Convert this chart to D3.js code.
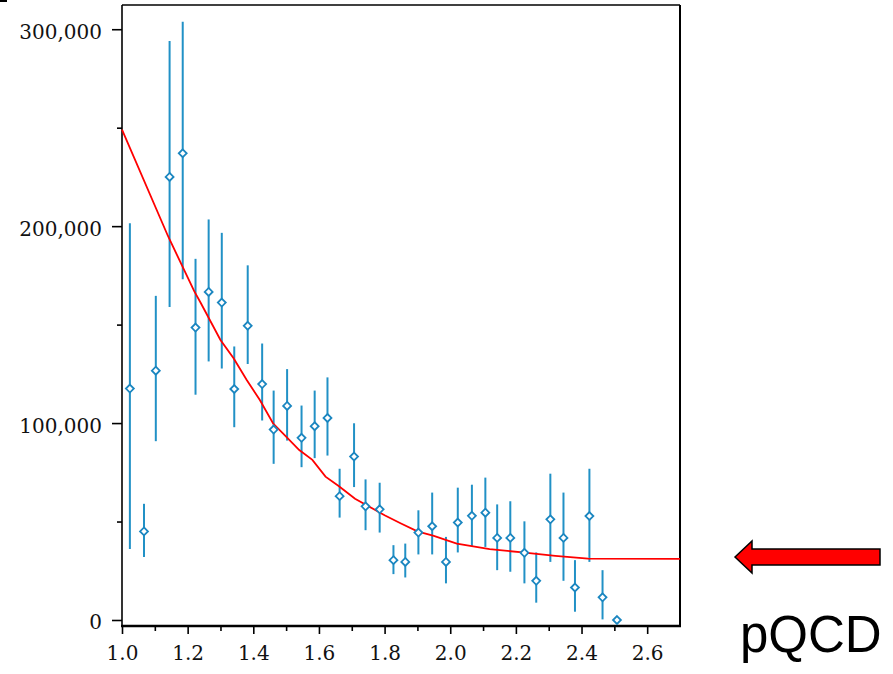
<!DOCTYPE html>
<html>
<head>
<meta charset="utf-8">
<script src="https://cdn.jsdelivr.net/npm/d3@7"></script>
<style>
  html, body { margin: 0; padding: 0; background: #fff; }
  svg { display: block; }
</style>
</head>
<body>
<svg id="chart" width="893" height="674"></svg>
<script>
// ---- data ----
const pointX = [1.024, 1.067, 1.103, 1.145, 1.185, 1.224, 1.264, 1.304, 1.342, 1.383,
                1.427, 1.462, 1.503, 1.547, 1.587, 1.626, 1.663, 1.707, 1.742, 1.785,
                1.827, 1.863, 1.903, 1.945, 1.987, 2.023, 2.066, 2.107, 2.143, 2.183,
                2.226, 2.262, 2.305, 2.345, 2.380, 2.424, 2.464, 2.508];
const pointY = [117500, 45000, 126600, 225000, 237000, 148500, 166600, 161200, 117300, 149400,
                119800, 96700, 108700, 92500, 98400, 102600, 62900, 83000, 57700, 56200,
                30400, 29500, 44400, 47600, 29500, 49500, 52900, 54500, 41700, 41700,
                34100, 19900, 51100, 41700, 16500, 52800, 11500, 0];
const errHigh = [201500, 59000, 164600, 294000, 303800, 183400, 203400, 196600, 138900, 180100,
                 140400, 116500, 127400, 108900, 116500, 123200, 76800, 99900, 71400, 69700,
                 38000, 38800, 55700, 64700, 42200, 67200, 68700, 72300, 58700, 60300,
                 50100, 34300, 74300, 64700, 30400, 76800, 25300, 0];
const errLow  = [36000, 32000, 90800, 159000, 173000, 114400, 131300, 127700, 97900, 130000,
                 101300, 79300, 91100, 77600, 82200, 83500, 52000, 67500, 45600, 44400,
                 23300, 21600, 33300, 33300, 18600, 34300, 37500, 37100, 25300, 24500,
                 18600, 8800, 29500, 19900, 4200, 29500, 300, 0];

const curveX = [1.0, 1.14, 1.22, 1.24, 1.30, 1.34, 1.38, 1.42, 1.46, 1.50, 1.54, 1.58,
                1.62, 1.66, 1.71, 1.80, 1.85, 1.90, 1.95, 2.02, 2.12, 2.22, 2.32, 2.42, 2.70];
const curveY = [249000, 195000, 167000, 161000, 142200, 132900, 121900, 111700, 99900, 93100,
                86300, 81300, 72800, 68000, 61600, 53200, 49000, 45000, 42700, 38800,
                36000, 34300, 32600, 31200, 31000];

const yMajorTicks = [0, 100000, 200000, 300000];
const yMinorTicks = [50000, 150000, 250000];
const xMajorTicks = [1.0, 1.2, 1.4, 1.6, 1.8, 2.0, 2.2, 2.4, 2.6];
const xMinorTicks = [1.1, 1.3, 1.5, 1.7, 1.9, 2.1, 2.3, 2.5];
const annotationLabel = "pQCD";

// ---- layout ----
const L = 122, R = 680, T = 5, B = 626;
const svg = d3.select("#chart");
const x = d3.scaleLinear().domain([1.0, 2.7]).range([L, R]);
const y = d3.scaleLinear().domain([-3050, 312300]).range([B, T]);

const tickFont = "'DejaVu Serif', serif";
const blue = "#2191c6";

// stray corner mark
svg.append("rect").attr("x", 0).attr("y", 0).attr("width", 7).attr("height", 2).attr("fill", "#000");

// axes
const yMaj = svg.append("g").attr("transform", `translate(${L},0)`)
  .call(d3.axisLeft(y).tickValues(yMajorTicks).tickSize(10).tickPadding(10)
        .tickFormat(d3.format(",")).tickSizeOuter(0));
const yMin = svg.append("g").attr("transform", `translate(${L},0)`)
  .call(d3.axisLeft(y).tickValues(yMinorTicks).tickSize(5).tickFormat("").tickSizeOuter(0));
const xMaj = svg.append("g").attr("transform", `translate(0,${B})`)
  .call(d3.axisBottom(x).tickValues(xMajorTicks).tickSize(8).tickPadding(12)
        .tickFormat(d3.format(".1f")).tickSizeOuter(0));
const xMin = svg.append("g").attr("transform", `translate(0,${B})`)
  .call(d3.axisBottom(x).tickValues(xMinorTicks).tickSize(5).tickFormat("").tickSizeOuter(0));

[yMaj, yMin, xMaj, xMin].forEach(g => {
  g.select(".domain").remove();
  g.selectAll(".tick line").attr("stroke", "#000").attr("stroke-width", 1.6);
  g.selectAll(".tick text").attr("font-family", tickFont).attr("font-size", 20).attr("fill", "#111");
});
yMaj.selectAll(".tick text").attr("dy", "0.45em");
xMaj.selectAll(".tick text").attr("dy", "0.71em");

// frame
svg.append("line").attr("x1", L).attr("x2", R).attr("y1", T).attr("y2", T)
  .attr("stroke", "#000").attr("stroke-width", 1.6);
svg.append("line").attr("x1", R).attr("x2", R).attr("y1", T).attr("y2", B)
  .attr("stroke", "#000").attr("stroke-width", 2);
svg.append("line").attr("x1", L).attr("x2", L).attr("y1", T).attr("y2", B + 1)
  .attr("stroke", "#000").attr("stroke-width", 1.6);
svg.append("line").attr("x1", L - 1).attr("x2", R + 1).attr("y1", B).attr("y2", B)
  .attr("stroke", "#000").attr("stroke-width", 2.6);

// error bars
const idx = d3.range(pointX.length);
svg.append("g").selectAll("line").data(idx).join("line")
  .attr("x1", i => x(pointX[i])).attr("x2", i => x(pointX[i]))
  .attr("y1", i => y(errHigh[i])).attr("y2", i => y(errLow[i]))
  .attr("stroke", blue).attr("stroke-width", 2);

// model curve
svg.append("path")
  .datum(d3.range(curveX.length))
  .attr("d", d3.line().x(i => x(curveX[i])).y(i => y(curveY[i])))
  .attr("fill", "none").attr("stroke", "#ff0000").attr("stroke-width", 1.8);

// markers
const diamond = d3.symbol().type(d3.symbolDiamond2).size(40);
svg.append("g").selectAll("path").data(idx).join("path")
  .attr("transform", i => `translate(${x(pointX[i])},${y(pointY[i])})`)
  .attr("d", diamond)
  .attr("fill", "#fff").attr("stroke", "#1a86c0").attr("stroke-width", 1.8);

// annotation arrow pointing at the flat pQCD level
const ay = y(curveY[curveY.length - 1]) - 2;
const tipX = 735, headX = 752, endX = 880;
const arrowPts = [
  [tipX, ay], [headX, ay - 16], [headX, ay - 8], [endX, ay - 8],
  [endX, ay + 8], [headX, ay + 8], [headX, ay + 16]
];
svg.append("path")
  .attr("d", d3.line()(arrowPts) + "Z")
  .attr("fill", "#ff0000").attr("stroke", "#000").attr("stroke-width", 1.5)
  .attr("stroke-linejoin", "miter");

svg.append("text")
  .attr("x", 740).attr("y", 652)
  .attr("font-family", "'Liberation Sans', Arial, sans-serif")
  .attr("font-size", 51)
  .attr("fill", "#000")
  .text(annotationLabel);
</script>
</body>
</html>
